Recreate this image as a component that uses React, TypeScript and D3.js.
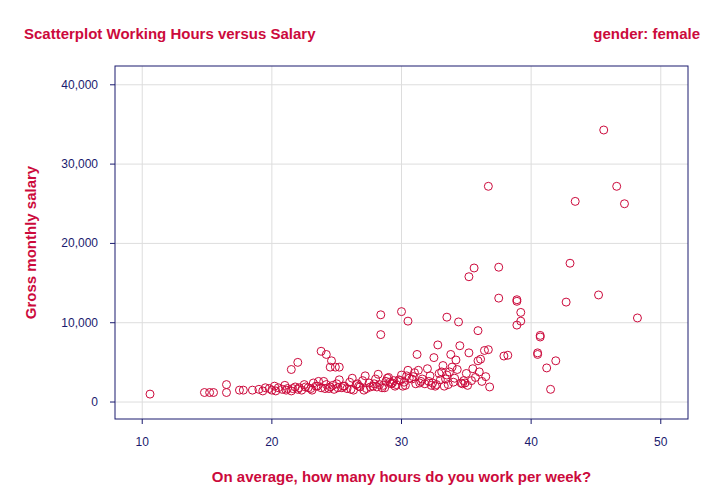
import React from 'react';
import * as d3 from 'd3';

const hours = [
  10.6, 14.8, 15.2, 15.5, 16.5, 16.5, 17.5, 17.8, 21.5, 22, 23.8, 24.2, 24.6, 24.5, 24.9, 25.2,
  28.4, 28.4, 30, 30.5, 33.5, 34.4, 35.2, 35.6, 37.5, 37.5, 38.9, 38.9, 39.2, 39.2, 38.9, 43.0,
  42.7, 45.2, 48.2, 40.7, 40.7, 40.5, 40.5, 41.2, 41.9, 41.5, 35.9, 36.7, 37.9, 38.2, 36.8, 35.9,
  45.6, 36.7, 46.6, 43.4, 47.2,
  18.5, 19, 19.3, 19.8, 20, 20.2, 20.5, 20.8, 21, 21.2, 21.5, 21.8, 22, 22.3, 22.5, 22.8, 23, 23.2,
  23.5, 23.8, 24, 24.2, 24.5, 24.8, 25, 25.2, 25.5, 25.8, 26, 26.2, 26.5, 26.8, 27, 27.2, 27.5,
  27.8, 28, 28.2, 28.3, 28.5, 28.8, 29, 29.2, 29.5, 29.8, 30, 30.2, 30.5, 30.8, 31, 31.2, 31.5,
  31.8, 32, 32.2, 32.5, 32.8, 33, 33.2, 33.5, 33.8, 34, 34.2, 34.5, 34.8, 35, 35.2, 35.5, 36, 36.5,
  19.5, 20.3, 21.1, 22.1, 23.1, 23.4, 24.1, 24.7, 25.4, 26.3, 26.7, 27.3, 27.9, 28.1, 28.6, 29.1,
  29.6, 30.1, 30.6, 31.1, 32.1, 32.6, 33.1, 33.6, 34.1, 34.6, 35.1, 36.2, 21.6, 22.6, 23.6, 24.4,
  25.6, 26.6, 27.6, 28.7, 29.3, 29.9, 30.3, 30.9, 31.4, 32.3, 32.9, 33.4, 34.3, 34.7, 35.4, 36.1,
  25.1, 26.1, 27.1, 28.9, 29.4, 30.4, 31.6, 32.4, 33.3, 33.9, 34.9, 35.7, 36.4, 31.3, 32.7, 33.7,
];
const salary = [
  1000, 1200, 1200, 1200, 2200, 1200, 1500, 1500, 4100, 5000, 6400, 6000, 5200, 4400, 4400, 4400,
  11000, 8500, 11400, 10200, 10700, 10100, 15800, 16900, 17000, 13100, 12900, 12700, 11300, 10200, 9700, 17500,
  12600, 13500, 10600, 8200, 8400, 6200, 6000, 4300, 5200, 1600, 9000, 6600, 5800, 5900, 1900, 5200,
  34300, 27200, 27200, 25300, 25000,
  1500, 1600, 1400, 1700, 1500, 2000, 1800, 1600, 2100, 1700, 1400, 1900, 1600, 1500, 2200, 1800, 1700, 2400,
  2000, 1800, 2600, 2200, 1900, 1600, 2300, 2800, 2000, 1700, 2500, 3000, 2200, 1900, 2700, 3300, 2400,
  2000, 2900, 3500, 2200, 1800, 2600, 3100, 2300, 2000, 2800, 3400, 2500, 4000, 2900, 3700, 6000, 2600,
  2300, 4200, 3300, 5600, 7200, 2800, 4600, 3400, 6000, 2500, 5300, 7100, 2700, 3600, 6200, 4200, 3800, 3200,
  1800, 1400, 1500, 1800, 1500, 2000, 1700, 2100, 1800, 1500, 2000, 1700, 2300, 1900, 2100, 2500,
  2200, 2000, 3000, 2300, 2600, 2000, 3800, 2200, 3000, 2400, 2100, 2600, 1700, 1900, 2600, 1700,
  2000, 2300, 1900, 1800, 2400, 2700, 2100, 3200, 2400, 2100, 3600, 2900, 4100, 2300, 2700, 5400,
  1800, 1600, 1500, 3000, 2700, 3300, 2900, 2400, 2000, 4400, 2400, 3100, 6500, 4000, 2200, 3800,
];

const xTicks = [10, 20, 30, 40, 50];
const yTicks = [0, 10000, 20000, 30000, 40000];

const red = '#cc0a3c';
const navy = '#1a1a6e';

export default function App() {
  const W = 720, H = 504;
  const left = 115, right = 688, top = 66, bottom = 419;
  const x = d3.scaleLinear().domain([7.9, 52.1]).range([left, right]);
  const y = d3.scaleLinear().domain([-2140, 42370]).range([bottom, top]);
  const fmt = d3.format(',');
  return (
    <svg width={W} height={H} style={{ position: 'absolute', left: 0, top: 0, fontFamily: 'Arial, "Liberation Sans", sans-serif' }}>
      <rect width={W} height={H} fill="white" />
      <text x={24} y={39} fill={red} fontSize={15} fontWeight="bold">Scatterplot Working Hours versus Salary</text>
      <text x={700} y={39} fill={red} fontSize={15} fontWeight="bold" textAnchor="end">gender: female</text>
      {xTicks.map((t) => (
        <line key={'gx' + t} x1={x(t)} x2={x(t)} y1={top} y2={bottom} stroke="#dddddd" />
      ))}
      {yTicks.map((t) => (
        <line key={'gy' + t} x1={left} x2={right} y1={y(t)} y2={y(t)} stroke="#dddddd" />
      ))}
      <rect x={left} y={top} width={right - left} height={bottom - top} fill="none" stroke={navy} strokeWidth={1} />
      {xTicks.map((t) => (
        <g key={'tx' + t}>
          <line x1={x(t)} x2={x(t)} y1={bottom} y2={bottom + 5} stroke={navy} />
          <text x={x(t)} y={bottom + 27} fill={navy} fontSize={12} textAnchor="middle">{t}</text>
        </g>
      ))}
      {yTicks.map((t) => (
        <g key={'ty' + t}>
          <line x1={left - 5} x2={left} y1={y(t)} y2={y(t)} stroke={navy} />
          <text x={left - 17} y={y(t) + 4} fill={navy} fontSize={12} textAnchor="end">{fmt(t)}</text>
        </g>
      ))}
      {hours.map((h, i) => (
        <circle key={i} cx={x(h)} cy={y(salary[i])} r={4} fill="none" stroke={red} strokeWidth={1} />
      ))}
      <text x={(left + right) / 2 + 0} y={482} fill={red} fontSize={15} fontWeight="bold" textAnchor="middle">
        On average, how many hours do you work per week?
      </text>
      <text transform={`translate(36,${(top + bottom) / 2 + 0}) rotate(-90)`} fill={red} fontSize={15} fontWeight="bold" textAnchor="middle">
        Gross monthly salary
      </text>
    </svg>
  );
}
